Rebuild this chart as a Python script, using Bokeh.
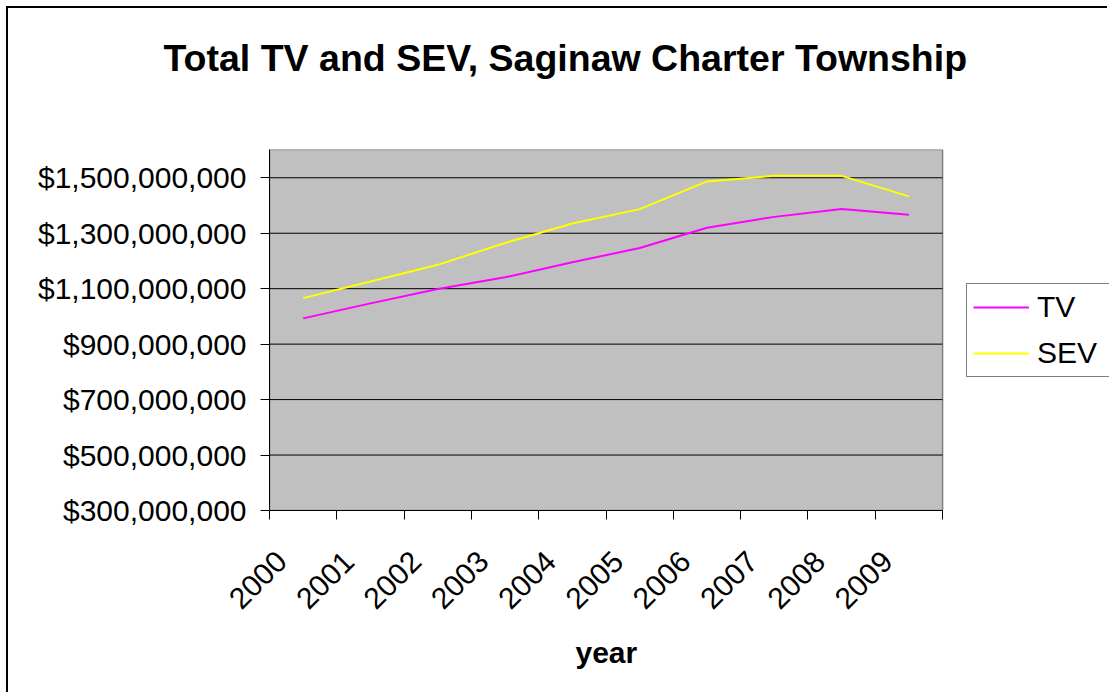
from bokeh.plotting import figure
from bokeh.models import Range1d, FixedTicker, NumeralTickFormatter, Legend, LegendItem, Title
from bokeh.embed import file_html
from bokeh.resources import INLINE
import math

years = ["2000", "2001", "2002", "2003", "2004", "2005", "2006", "2007", "2008", "2009"]
tv = [993e6, 1047e6, 1099e6, 1141e6, 1195e6, 1247e6, 1320e6, 1359e6, 1387e6, 1367e6]
sev = [1066e6, 1126e6, 1186e6, 1265e6, 1335e6, 1387e6, 1487e6, 1507e6, 1507e6, 1433e6]
y_ticks = [300e6, 500e6, 700e6, 900e6, 1100e6, 1300e6, 1500e6]

FONT = "Liberation Sans"
n = len(years)
xs = [i + 0.5 for i in range(n)]
Y_MIN, Y_MAX = 300e6, 1602e6
X_END = 12.48   # extra room at the right of the plot area for the legend

p = figure(width=1101, height=686, output_backend="svg", toolbar_location=None,
           x_range=Range1d(0, X_END), y_range=Range1d(Y_MIN, Y_MAX))
p.styles = {"margin-left": "6px", "margin-top": "6px",
            "border-left": "2px solid black", "border-top": "2px solid black"}
p.min_border_left = 261
p.min_border_right = 0
p.min_border_top = 141
p.min_border_bottom = 184
p.background_fill_color = "white"
p.border_fill_color = "white"
p.outline_line_color = None

# spacer between frame and title, then the title itself
p.title.text = ""
spacer = Title(text=" ", text_font_size="1px", standoff=58)
p.add_layout(spacer, "above")
main_title = Title(text="Total TV and SEV, Saginaw Charter Township",
                   align="left", offset=-106, text_font=FONT,
                   text_font_size="37.5px", text_font_style="bold",
                   text_color="black", standoff=20)
p.add_layout(main_title, "above")

# plot area (grey) and its grid lines
p.quad(left=0, right=n, bottom=Y_MIN, top=Y_MAX, fill_color="#C0C0C0",
       line_color="#808080", line_width=1.5)
p.segment(x0=[0] * len(y_ticks), x1=[n] * len(y_ticks), y0=y_ticks, y1=y_ticks,
          line_color="black", line_width=1)
p.xgrid.grid_line_color = None
p.ygrid.grid_line_color = None

# y axis
p.yaxis.ticker = FixedTicker(ticks=y_ticks)
p.yaxis.formatter = NumeralTickFormatter(format="$0,0")
p.yaxis.major_label_text_font = FONT
p.yaxis.major_label_text_font_size = "30px"
p.yaxis.major_label_text_color = "black"
p.yaxis.major_tick_out = 9
p.yaxis.major_tick_in = 0
p.yaxis.minor_tick_line_color = None
p.yaxis.axis_line_color = "black"
p.yaxis.major_tick_line_color = "black"
p.yaxis.major_label_standoff = 14

# x axis: labels near category centres, tick marks at category boundaries
label_pos = [i + 0.18 for i in range(n)]
p.xaxis.bounds = (0, n)
p.xaxis.ticker = FixedTicker(ticks=label_pos, minor_ticks=list(range(n + 1)))
p.xaxis.major_label_overrides = {lp: y for lp, y in zip(label_pos, years)}
p.xaxis.major_label_orientation = math.pi / 4
p.xaxis.major_label_text_font = FONT
p.xaxis.major_label_text_font_size = "30px"
p.xaxis.major_label_text_color = "black"
p.xaxis.major_label_standoff = 37
p.xaxis.major_tick_line_color = None
p.xaxis.major_tick_out = 0
p.xaxis.major_tick_in = 0
p.xaxis.minor_tick_out = 9
p.xaxis.minor_tick_in = 0
p.xaxis.minor_tick_line_color = "black"
p.xaxis.axis_line_color = "black"

# x axis title, centred under the grey plot area
x_title = Title(text="year", align="left", offset=306, text_font=FONT,
                text_font_size="30px", text_font_style="bold",
                text_color="black", standoff=26)
p.add_layout(x_title, "below")

r_tv = p.line(xs, tv, line_color="#FF00FF", line_width=2)
r_sev = p.line(xs, sev, line_color="#FFFF00", line_width=2)

legend = Legend(items=[LegendItem(label="TV", renderers=[r_tv]),
                       LegendItem(label="SEV", renderers=[r_sev])],
                location=(697, 133))
legend.label_text_font = FONT
legend.label_text_font_size = "30px"
legend.label_text_color = "black"
legend.glyph_width = 56
legend.glyph_height = 34
legend.label_height = 34
legend.label_width = 80
legend.spacing = 12
legend.padding = 6
legend.margin = 0
legend.label_standoff = 8
legend.border_line_color = "black"
legend.border_line_width = 1
legend.background_fill_color = "white"
legend.background_fill_alpha = 1
p.add_layout(legend, "center")

open("out.html", "w").write(file_html(p, INLINE))
